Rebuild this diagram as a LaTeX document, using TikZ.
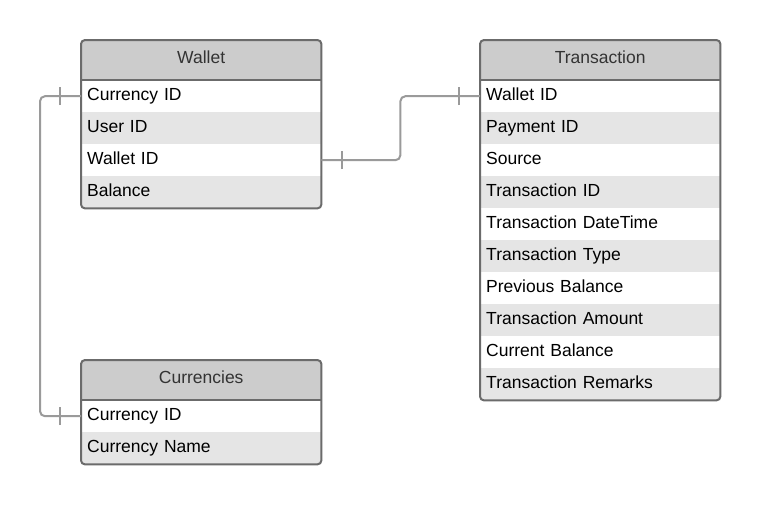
\documentclass[tikz,border=0pt]{standalone}
\usepackage{fontspec}
\setmainfont{Liberation Sans}
\definecolor{hdr}{HTML}{CCCCCC}
\definecolor{alt}{HTML}{E5E5E5}
\definecolor{bord}{HTML}{6B6B6B}
\definecolor{conn}{HTML}{9A9A9A}
\definecolor{htext}{HTML}{333333}
\begin{document}
\begin{tikzpicture}[x=1pt,y=-1pt,
  cell/.style={rectangle, minimum width=240pt, minimum height=32pt, text width=228pt, inner xsep=6pt, inner ysep=0pt, text height=13pt, text depth=4pt, anchor=north west, font=\fontsize{17.5}{20}\selectfont, text=black, align=left},
  plainrow/.style={cell, fill=white},
  altrow/.style={cell, fill=alt},
  header/.style={cell, minimum height=40pt, text depth=6pt, fill=hdr, align=center, text=htext},
  frame/.style={draw=bord, line width=2pt, rounded corners=4pt},
  sepline/.style={draw=bord, line width=2pt},
  link/.style={draw=conn, line width=2pt, rounded corners=5pt},
  tickmark/.style={draw=conn, line width=2pt}]
\useasboundingbox[fill=white] (0,0) rectangle (760,504);

% Wallet
\begin{scope}
\clip[rounded corners=4pt] (81,40) rectangle (321,208);
\node[header] (wh) at (81,40) {Wallet};
\node[plainrow] (w1) at (81,80) {Currency ID};
\node[altrow] (w2) at (81,112) {User ID};
\node[plainrow] (w3) at (81,144) {Wallet ID};
\node[altrow] (w4) at (81,176) {Balance};
\end{scope}
\draw[sepline] (wh.south west) -- (wh.south east);
\draw[frame] (wh.north west) rectangle (w4.south east);

% Transaction
\begin{scope}
\clip[rounded corners=4pt] (480,40) rectangle (720,400);
\node[header] (th) at (480,40) {Transaction};
\node[plainrow] (t1) at (480,80) {Wallet ID};
\node[altrow] (t2) at (480,112) {Payment ID};
\node[plainrow] (t3) at (480,144) {Source};
\node[altrow] (t4) at (480,176) {Transaction ID};
\node[plainrow] (t5) at (480,208) {Transaction DateTime};
\node[altrow] (t6) at (480,240) {Transaction Type};
\node[plainrow] (t7) at (480,272) {Previous Balance};
\node[altrow] (t8) at (480,304) {Transaction Amount};
\node[plainrow] (t9) at (480,336) {Current Balance};
\node[altrow] (t10) at (480,368) {Transaction Remarks};
\end{scope}
\draw[sepline] (th.south west) -- (th.south east);
\draw[frame] (th.north west) rectangle (t10.south east);

% Currencies
\begin{scope}
\clip[rounded corners=4pt] (81,360) rectangle (321,464);
\node[header] (ch) at (81,360) {Currencies};
\node[plainrow] (c1) at (81,400) {Currency ID};
\node[altrow] (c2) at (81,432) {Currency Name};
\end{scope}
\draw[sepline] (ch.south west) -- (ch.south east);
\draw[frame] (ch.north west) rectangle (c2.south east);

% Connectors
\draw[link] (w1.west) -- ++(-41,0) |- (c1.west);
\draw[tickmark] ([xshift=-21pt,yshift=-9pt]w1.west) -- ([xshift=-21pt,yshift=9pt]w1.west);
\draw[tickmark] ([xshift=-21pt,yshift=-9pt]c1.west) -- ([xshift=-21pt,yshift=9pt]c1.west);

\draw[link] (w3.east) -- ++(79,0) |- (t1.west);
\draw[tickmark] ([xshift=21pt,yshift=-9pt]w3.east) -- ([xshift=21pt,yshift=9pt]w3.east);
\draw[tickmark] ([xshift=-21pt,yshift=-9pt]t1.west) -- ([xshift=-21pt,yshift=9pt]t1.west);
\end{tikzpicture}
\end{document}
